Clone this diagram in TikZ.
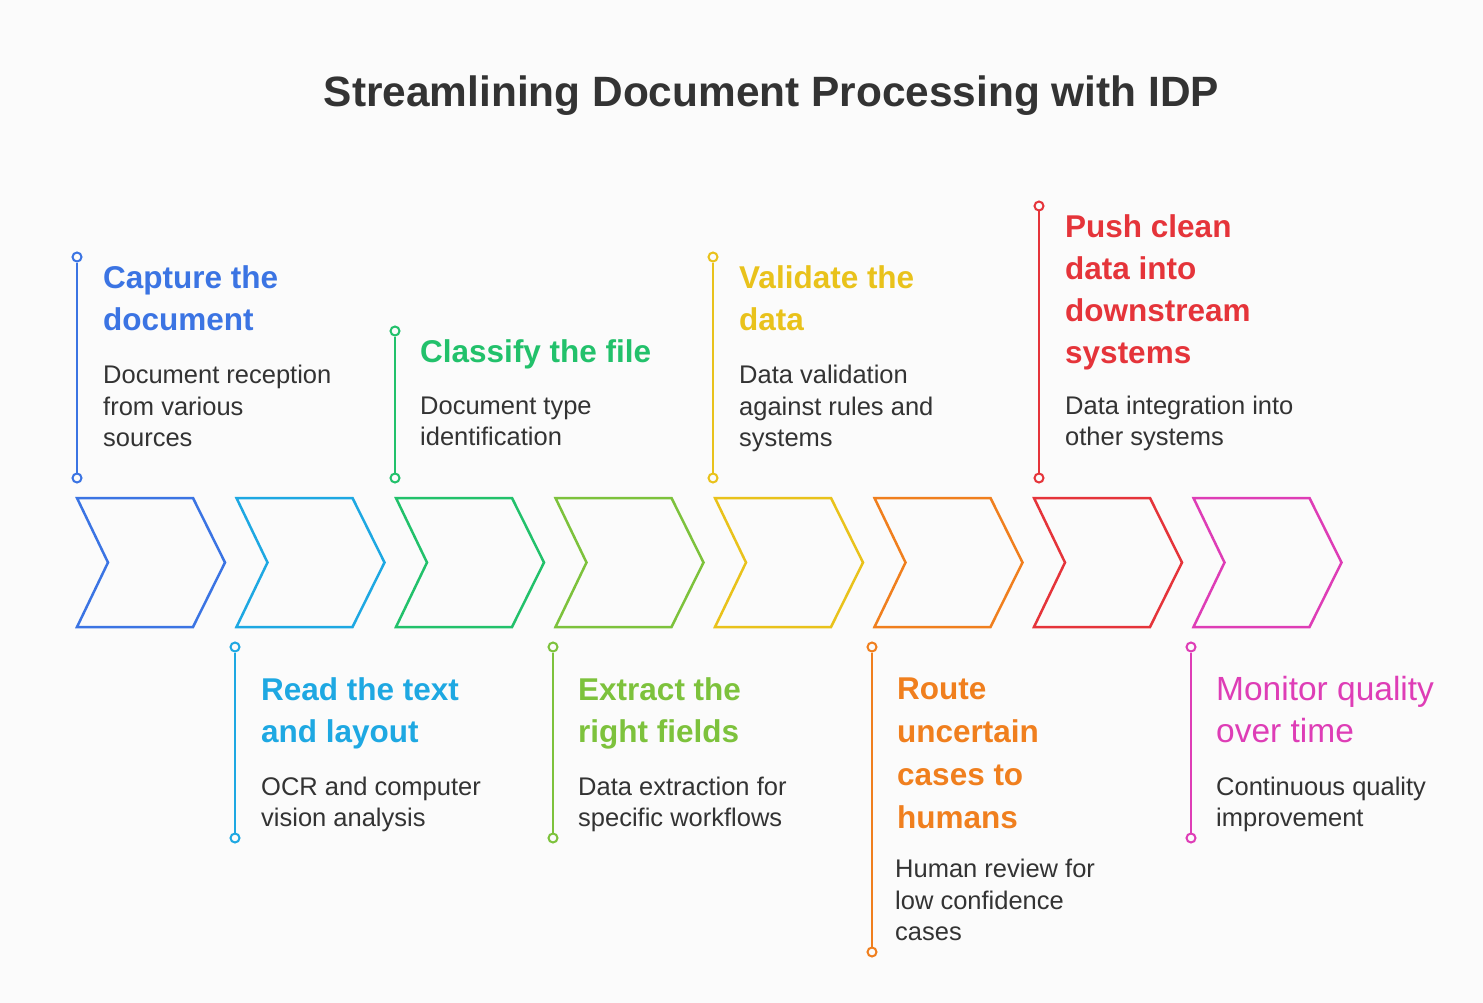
\documentclass[tikz,border=0pt]{standalone}
\usepackage{fontspec}
\setmainfont{Liberation Sans}
\definecolor{bg}{HTML}{FBFBFB}
\definecolor{txt}{HTML}{333333}
\definecolor{cA}{HTML}{3B74E3}
\definecolor{cB}{HTML}{1EA8E2}
\definecolor{cC}{HTML}{22C16B}
\definecolor{cD}{HTML}{7DC23C}
\definecolor{cE}{HTML}{E9C21B}
\definecolor{cF}{HTML}{F07F1E}
\definecolor{cG}{HTML}{E5343A}
\definecolor{cH}{HTML}{DE3DB6}
\newcommand\myheadfont{\bfseries\fontsize{31.5}{42}\selectfont}
\newcommand\mydescfont{\fontsize{25.5}{31.5}\selectfont}
\begin{document}
\begin{tikzpicture}[x=1pt,y=-1pt,
  chev/.style={line width=2.5pt, line join=miter},
  stem/.style={line width=2.5pt},
  dot/.style={circle, draw, line width=2pt, fill=bg, minimum size=9pt, inner sep=0pt},
  head/.style={anchor=base west, align=left, inner sep=0pt, font=\myheadfont},
  desc/.style={anchor=base west, align=left, inner sep=0pt, font=\mydescfont, text=txt},
]
\fill[bg] (0,0) rectangle (1483,1003);
\useasboundingbox (0,0) rectangle (1483,1003);

\node[anchor=base, inner sep=0pt, text=txt, font=\bfseries\fontsize{42.4}{48}\selectfont] (title) at (771.5,107) {Streamlining Document Processing with IDP};

% chevrons
\foreach \i/\c in {0/cA,1/cB,2/cC,3/cD,4/cE,5/cF,6/cG,7/cH}{
  \pgfmathsetmacro\xo{77+\i*159.5}
  \draw[chev, draw=\c] (\xo,498) -- ++(116,0) -- ++(32,64.5) -- ++(-32,64.5) -- ++(-116,0) -- ++(31,-64.5) -- cycle;
}

% step 1
\node[dot, draw=cA] (s1a) at (77,257) {};
\node[dot, draw=cA] (s1b) at (77,478) {};
\draw[stem, cA] (s1a) -- (s1b);
\node[head, text=cA] (h1) at (103,330) {Capture the\\document};
\node[desc] (d1) at (103,446.5) {Document reception\\from various\\sources};

% step 2
\node[dot, draw=cB] (s2a) at (235,647) {};
\node[dot, draw=cB] (s2b) at (235,838) {};
\draw[stem, cB] (s2a) -- (s2b);
\node[head, text=cB] (h2) at (261,742) {Read the text\\and layout};
\node[desc] (d2) at (261,826.5) {OCR and computer\\vision analysis};

% step 3
\node[dot, draw=cC] (s3a) at (395,331) {};
\node[dot, draw=cC] (s3b) at (395,478) {};
\draw[stem, cC] (s3a) -- (s3b);
\node[head, text=cC] (h3) at (420,362) {Classify the file};
\node[desc] (d3) at (420,445.5) {Document type\\identification};

% step 4
\node[dot, draw=cD] (s4a) at (553,647) {};
\node[dot, draw=cD] (s4b) at (553,838) {};
\draw[stem, cD] (s4a) -- (s4b);
\node[head, text=cD] (h4) at (578,742) {Extract the\\right fields};
\node[desc] (d4) at (578,826.5) {Data extraction for\\specific workflows};

% step 5
\node[dot, draw=cE] (s5a) at (713,257) {};
\node[dot, draw=cE] (s5b) at (713,478) {};
\draw[stem, cE] (s5a) -- (s5b);
\node[head, text=cE] (h5) at (739,330) {Validate the\\data};
\node[desc] (d5) at (739,446.5) {Data validation\\against rules and\\systems};

% step 6
\node[dot, draw=cF] (s6a) at (872,647) {};
\node[dot, draw=cF] (s6b) at (872,952) {};
\draw[stem, cF] (s6a) -- (s6b);
\node[head, text=cF, font=\bfseries\fontsize{31.5}{42.7}\selectfont] (h6) at (897,828) {Route\\uncertain\\cases to\\humans};
\node[desc] (d6) at (895,940.5) {Human review for\\low confidence\\cases};

% step 7
\node[dot, draw=cG] (s7a) at (1039,206) {};
\node[dot, draw=cG] (s7b) at (1039,478) {};
\draw[stem, cG] (s7a) -- (s7b);
\node[head, text=cG] (h7) at (1065,363) {Push clean\\data into\\downstream\\systems};
\node[desc] (d7) at (1065,445.5) {Data integration into\\other systems};

% step 8
\node[dot, draw=cH] (s8a) at (1191,647) {};
\node[dot, draw=cH] (s8b) at (1191,838) {};
\draw[stem, cH] (s8a) -- (s8b);
\node[head, text=cH, font=\fontsize{33.5}{42}\selectfont] (h8) at (1216,742) {Monitor quality\\over time};
\node[desc] (d8) at (1216,826.5) {Continuous quality\\improvement};
\end{tikzpicture}
\end{document}
